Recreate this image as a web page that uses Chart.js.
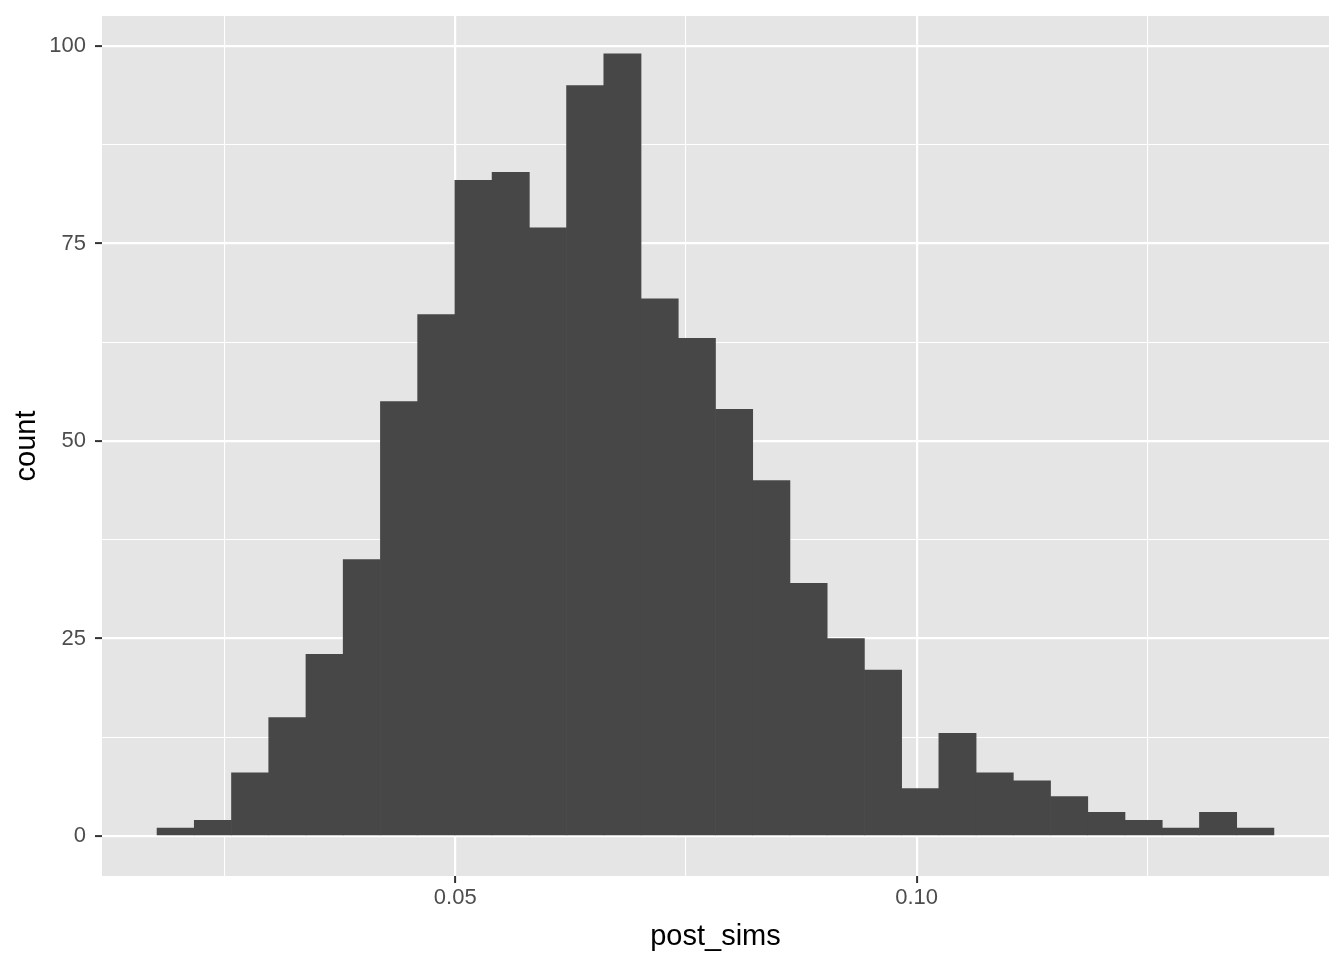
<!DOCTYPE html>
<html>
<head>
<meta charset="utf-8">
<script src="https://cdn.jsdelivr.net/npm/chart.js@4"></script>
<style>
  html, body { margin: 0; padding: 0; background: #fff; }
  #wrap { width: 1344px; height: 960px; }
</style>
</head>
<body>
<div id="wrap"><canvas id="hist_chart"></canvas></div>
<script>
// histogram of post_sims, 30 bins
const binStart = 0.01768;
const binWidth = 0.0040347;
const counts = [1, 2, 8, 15, 23, 35, 55, 66, 83, 84,
                77, 95, 99, 68, 63, 54, 45, 32, 25, 21,
                6, 13, 8, 7, 5, 3, 2, 1, 3, 1];
const xTicks = [0.025, 0.05, 0.075, 0.10, 0.125];
const xLabels = ["", "0.05", "", "0.10", ""];
const yTicks = [0, 12.5, 25, 37.5, 50, 62.5, 75, 87.5, 100];
const yLabels = ["0", "", "25", "", "50", "", "75", "", "100"];

const points = counts.map(function (c, i) {
  return { x: binStart + binWidth * (i + 0.5), y: c };
});

const panelBg = {
  id: "panelBg",
  beforeDraw: function (chart) {
    const a = chart.chartArea;
    const ctx = chart.ctx;
    ctx.save();
    ctx.fillStyle = "#E5E5E5";
    ctx.fillRect(a.left, a.top, a.right - a.left, a.bottom - a.top);
    ctx.restore();
  }
};

function isMajor(ctx, labels) {
  return ctx.index !== undefined && labels[ctx.index] !== "";
}

const tickFont = { family: "Liberation Sans, Arial", size: 22 };
const titleFont = { family: "Liberation Sans, Arial", size: 29 };

document.addEventListener("DOMContentLoaded", function () {
  new Chart("hist_chart", {
    type: "bar",
    data: {
      datasets: [{
        label: "count",
        data: points,
        backgroundColor: "#474747",
        borderWidth: 0,
        barPercentage: 1.0,
        categoryPercentage: 1.0
      }]
    },
    plugins: [panelBg],
    options: {
      responsive: true,
      maintainAspectRatio: false,
      animation: false,
      layout: { padding: { left: 0, right: 15, top: 16, bottom: 0 } },
      plugins: {
        legend: { display: false },
        tooltip: { enabled: false }
      },
      scales: {
        x: {
          type: "linear",
          min: 0.011714,
          max: 0.14469,
          offset: false,
          border: { display: false },
          afterBuildTicks: function (axis) {
            axis.ticks = xTicks.map(function (v) { return { value: v }; });
          },
          afterFit: function (axis) {
            axis.height = 84;
            axis.paddingLeft = 0;
            axis.paddingRight = 0;
          },
          grid: {
            offset: false,
            color: "#FFFFFF",
            lineWidth: function (ctx) { return isMajor(ctx, xLabels) ? 2.2 : 1.1; },
            drawTicks: true,
            tickLength: 7,
            tickColor: function (ctx) { return isMajor(ctx, xLabels) ? "#333333" : "rgba(0,0,0,0)"; },
            tickWidth: 2
          },
          ticks: {
            autoSkip: false,
            maxRotation: 0,
            color: "#4D4D4D",
            font: tickFont,
            padding: 2,
            callback: function (v, i) { return xLabels[i]; }
          },
          title: {
            display: true,
            text: "post_sims",
            color: "#000000",
            font: titleFont,
            padding: { top: 0, bottom: 6 }
          }
        },
        y: {
          min: -5.06,
          max: 103.8,
          border: { display: false },
          afterBuildTicks: function (axis) {
            axis.ticks = yTicks.map(function (v) { return { value: v }; });
          },
          afterFit: function (axis) {
            axis.width = 102;
            axis.paddingTop = 0;
            axis.paddingBottom = 0;
          },
          grid: {
            offset: false,
            color: "#FFFFFF",
            lineWidth: function (ctx) { return isMajor(ctx, yLabels) ? 2.2 : 1.1; },
            drawTicks: true,
            tickLength: 7,
            tickColor: function (ctx) { return isMajor(ctx, yLabels) ? "#333333" : "rgba(0,0,0,0)"; },
            tickWidth: 2
          },
          ticks: {
            autoSkip: false,
            color: "#4D4D4D",
            font: tickFont,
            padding: 9,
            callback: function (v, i) { return yLabels[i]; }
          },
          title: {
            display: true,
            text: "count",
            color: "#000000",
            font: titleFont,
            padding: { top: 10, bottom: 0 }
          }
        }
      }
    }
  });
});
</script>
</body>
</html>
